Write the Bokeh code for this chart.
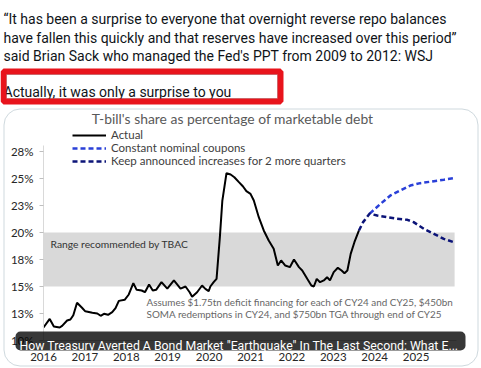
from bokeh.plotting import figure
from bokeh.models import (Range1d, Label, BoxAnnotation, FixedTicker, Legend, LegendItem, LinearAxis)
from bokeh.embed import file_html
from bokeh.resources import INLINE

# ---------------- data ----------------
actual_years = [2016.00, 2016.15, 2016.25, 2016.39, 2016.45, 2016.57, 2016.65, 2016.72, 2016.81, 2016.93,
                2017.01, 2017.18, 2017.30, 2017.38, 2017.46, 2017.56, 2017.66, 2017.74, 2017.82, 2017.96,
                2018.06, 2018.17, 2018.25, 2018.37, 2018.45, 2018.55, 2018.64, 2018.72, 2018.85, 2018.99,
                2019.15, 2019.31, 2019.43, 2019.53, 2019.59, 2019.71, 2019.83, 2019.91, 2019.99, 2020.03,
                2020.11, 2020.18, 2020.26, 2020.32, 2020.42, 2020.52, 2020.61, 2020.72, 2020.82, 2020.90,
                2021.00, 2021.08, 2021.20, 2021.32, 2021.44, 2021.56, 2021.66, 2021.74, 2021.84, 2021.95,
                2022.05, 2022.17, 2022.25, 2022.37, 2022.47, 2022.53, 2022.60, 2022.68, 2022.77, 2022.85,
                2022.92, 2023.01, 2023.11, 2023.20, 2023.27, 2023.34, 2023.42, 2023.51, 2023.62]
actual_share = [11.2, 12.0, 11.3, 11.2, 11.36, 11.85, 11.94, 12.34, 13.49, 13.03,
                12.7, 12.56, 12.5, 12.29, 12.47, 12.38, 12.62, 12.99, 13.67, 13.77,
                14.26, 15.31, 14.69, 14.63, 14.47, 15.19, 14.63, 14.69, 15.4, 14.8,
                15.56, 14.8, 15.0, 14.47, 14.05, 14.47, 15.09, 14.78, 14.57, 15.0,
                15.4, 15.71, 19.57, 22.96, 25.49, 25.37, 25.12, 24.66, 24.26, 23.83,
                23.58, 22.96, 21.42, 20.19, 19.26, 18.49, 16.94, 17.41, 16.94, 16.79,
                17.5, 16.79, 16.48, 15.71, 15.09, 15.0, 15.71, 15.4, 15.56, 15.86,
                15.56, 16.33, 16.73, 16.48, 16.23, 16.48, 18.02, 19.1, 20.19]

keep_years = [2023.62, 2023.72, 2023.88, 2024.06, 2024.30, 2024.54, 2024.79, 2024.94, 2025.19, 2025.43, 2025.67, 2025.91]
keep_share = [20.19, 20.96, 21.75, 21.57, 21.42, 21.27, 21.17, 20.96, 20.34, 19.88, 19.41, 19.1]

const_years = [2023.88, 2024.14, 2024.38, 2024.62, 2024.86, 2025.10, 2025.43, 2025.67, 2025.95]
const_share = [21.75, 22.65, 23.43, 23.9, 24.35, 24.57, 24.75, 24.88, 25.06]

band_share = [15, 20]
band_years = [2016.0, 2025.93]

x_ticks = [2016, 2017, 2018, 2019, 2020, 2021, 2022, 2023, 2024, 2025]
y_ticks = [10, 12.5, 15, 17.5, 20, 22.5, 25, 27.5]
y_tick_labels = ["10%", "13%", "15%", "18%", "20%", "23%", "25%", "28%"]

tweet_lines = [
    "\u201cIt has been a surprise to everyone that overnight reverse repo balances",
    "have fallen this quickly and that reserves have increased over this period\u201d",
    "said Brian Sack who managed the Fed's PPT from 2009 to 2012: WSJ",
]
reply_text = "Actually, it was only a surprise to you"
chart_title = "T-bill's share as percentage of marketable debt"
legend_labels = ["Actual", "Constant nominal coupons", "Keep announced increases for 2 more quarters"]
band_note = "Range recommended by TBAC"
assump_lines = ["Assumes $1.75tn deficit financing for each of CY24 and CY25, $450bn",
                "SOMA redemptions in CY24, and $750bn TGA through end of CY25"]
overlay_text = 'How Treasury Averted A Bond Market "Earthquake" In The Last Second: What E...'

# ---------------- layout ----------------
W, H = 481, 368
OX, OY = 43.0, 232.0          # pixel of (2016, 20%)
PXY, PXP = 41.4, 10.8         # pixels per year, pixels per percentage point

x0 = 2016 - OX / PXY
x1 = 2016 + (W - OX) / PXY
y_bot = 20 - (H - OY) / PXP
y_top = 20 + OY / PXP

p = figure(width=W, height=H, output_backend="svg", toolbar_location=None,
           x_range=Range1d(x0, x1), y_range=Range1d(y_bot, y_top),
           x_axis_type=None, y_axis_type=None,
           min_border_left=0, min_border_right=0, min_border_top=0, min_border_bottom=0)
p.extra_x_ranges = {"px": Range1d(0, W)}
p.extra_y_ranges = {"py": Range1d(H, 0)}
p.outline_line_color = None
p.background_fill_color = "white"
p.border_fill_color = "white"
p.xgrid.visible = False
p.ygrid.visible = False

CH = "Lato"
TW = "Roboto"
BLUE = "#2a40d8"
NAVY = "#0c1478"

# axes (fixed inside the canvas)
xax = LinearAxis(fixed_location=y_ticks[0], bounds=(2016.0, 2025.976), ticker=FixedTicker(ticks=x_ticks))
xax.major_tick_line_color = None
xax.minor_tick_line_color = None
xax.axis_line_color = "#d0d0d0"
xax.major_label_text_font = CH
xax.major_label_text_font_size = "11.5px"
xax.major_label_text_color = "#262626"
xax.major_label_standoff = 6
p.add_layout(xax, "below")

yax = LinearAxis(fixed_location=2016.0, bounds=(10.0, 28.06), ticker=FixedTicker(ticks=y_ticks))
yax.major_label_overrides = {t: s for t, s in zip(y_ticks, y_tick_labels)}
yax.minor_tick_line_color = None
yax.major_tick_out = 4
yax.major_tick_in = 0
yax.major_tick_line_color = "#bfbfbf"
yax.axis_line_color = "#d9d9d9"
yax.major_label_text_font = CH
yax.major_label_text_font_size = "11.5px"
yax.major_label_text_color = "#262626"
yax.major_label_standoff = 6
p.add_layout(yax, "left")


def pg(x, y, text, **kw):
    """Label positioned in page pixel coordinates."""
    return Label(x=x, y=y, x_range_name="px", y_range_name="py", text=text, **kw)


def pbox(l, r, t, b, **kw):
    return BoxAnnotation(left=l, right=r, top=t, bottom=b,
                         x_range_name="px", y_range_name="py", **kw)


# card
p.add_layout(pbox(3.5, 477.5, 108.5, 365.5, fill_alpha=0, line_color="#cfd9de", line_alpha=1,
                  line_width=1, border_radius=16))

# band
p.quad(left=[band_years[0]], right=[band_years[1]], bottom=[band_share[0]], top=[band_share[1]],
       fill_color="#d9d9d9", line_color=None)

r_actual = p.line(actual_years, actual_share, line_color="black", line_width=2)
r_const = p.line(const_years, const_share, line_color=BLUE, line_width=2.5, line_dash="5 3")
r_keep = p.line(keep_years, keep_share, line_color=NAVY, line_width=2.5, line_dash="5 3")

legend = Legend(items=[LegendItem(label=legend_labels[0], renderers=[r_actual]),
                       LegendItem(label=legend_labels[1], renderers=[r_const]),
                       LegendItem(label=legend_labels[2], renderers=[r_keep])],
                location=(72, 201), glyph_width=34, glyph_height=12, label_height=12,
                spacing=0, padding=0, margin=0, label_standoff=5,
                label_text_font=CH, label_text_font_size="11.5px", label_text_color="#404040",
                border_line_alpha=0, background_fill_alpha=0)
p.add_layout(legend, "center")

# chart texts
p.add_layout(pg(232, 118.3, chart_title, text_font=CH, text_font_size="13.9px", text_color="#595959",
                text_align="center", text_baseline="alphabetic"))
p.add_layout(Label(x=2016.17, y=18.89, text=band_note, text_font=CH, text_font_size="10.3px",
                   text_color="#333333", text_baseline="middle"))
for yv, s in zip([13.55, 12.41], assump_lines):
    p.add_layout(Label(x=2018.49, y=yv, text=s, text_font=CH, text_font_size="9.9px",
                       text_color="#666666", text_baseline="middle"))

# tweet text
for yb, s in zip([18.3, 37.3, 55.7], tweet_lines):
    p.add_layout(pg(3, yb, s, text_font=TW, text_font_size="14px", text_color="#0f1419",
                    text_baseline="alphabetic"))

# red box reply
p.add_layout(pbox(6, 277, 74, 98, fill_color="white", fill_alpha=1, line_color="#b5b5b5",
                  line_alpha=1, line_width=1))
p.add_layout(pg(3, 91.7, reply_text, text_font=TW, text_font_size="14px", text_color="#0f1419",
                text_baseline="alphabetic"))
p.add_layout(pbox(3, 280, 71, 101, fill_alpha=0, line_color="#e8141c", line_alpha=1, line_width=6))

# overlay bar
p.add_layout(pbox(15, 465, 331, 350, fill_color="black", fill_alpha=0.78, line_color=None, border_radius=5))
p.add_layout(pg(19, 345, overlay_text, text_font=TW, text_font_size="12.3px", text_color="white",
                text_baseline="alphabetic"))

open("out.html", "w").write(file_html(p, INLINE))
